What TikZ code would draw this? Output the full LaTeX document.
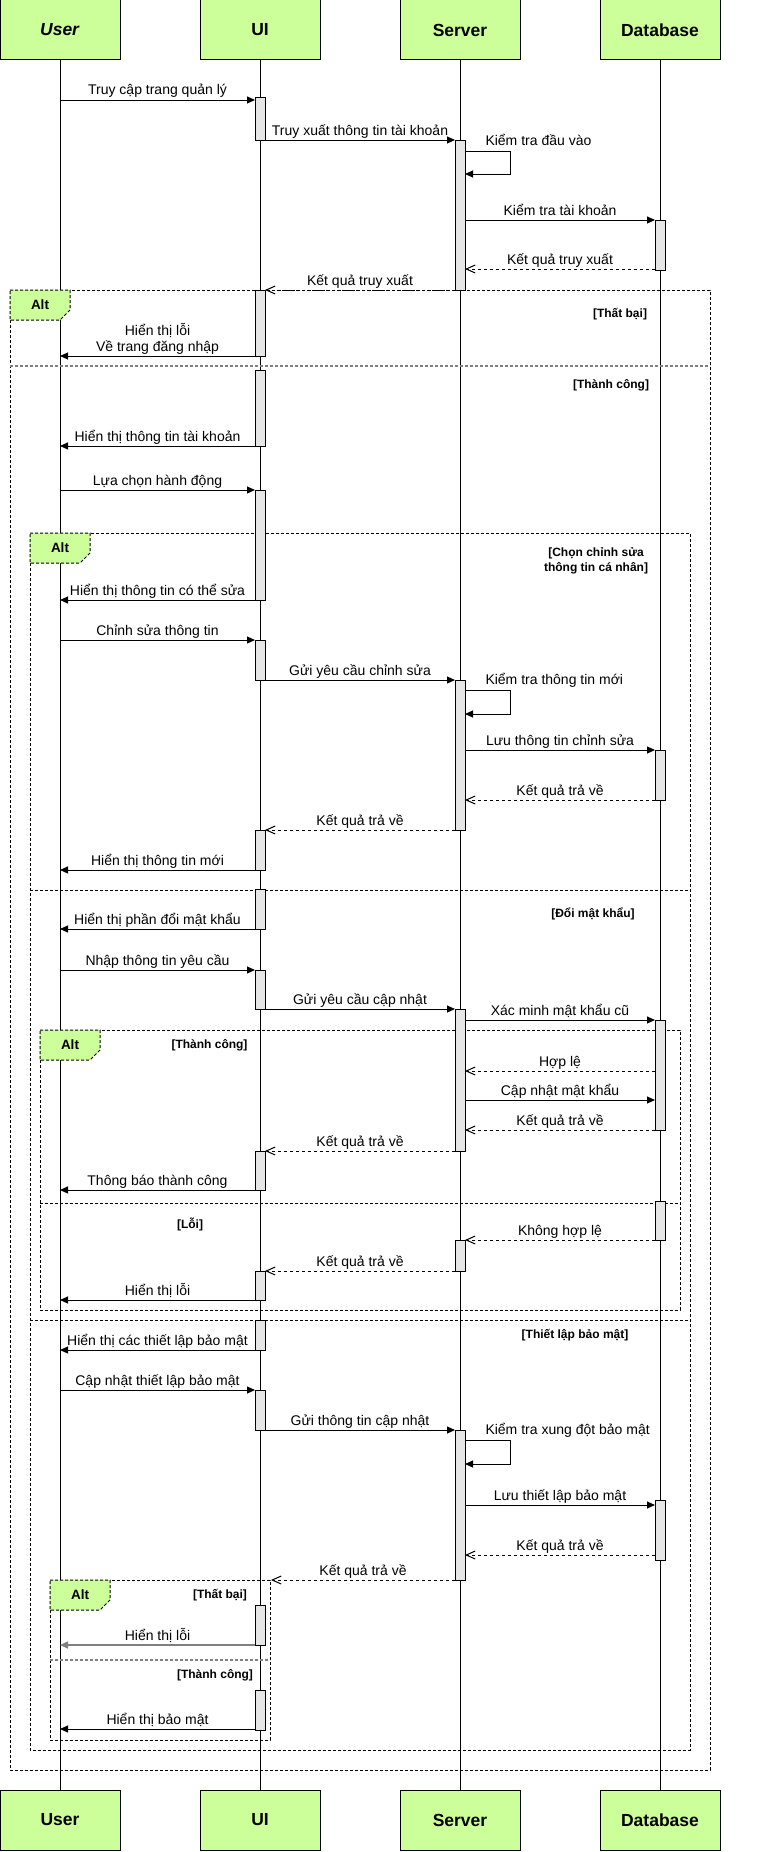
\documentclass[tikz,border=0pt]{standalone}
\usepackage{fontspec}
\setmainfont{Liberation Sans}
\usetikzlibrary{calc,arrows.meta}
\definecolor{hgreen}{HTML}{CCFF99}
\definecolor{actgray}{HTML}{E6E6E6}
\definecolor{sepgray}{HTML}{808080}

\newcommand\seqmsg[6]{% name, style, y, x1, x2, label
  \coordinate (#1a) at (#4,#3);
  \coordinate (#1b) at (#5,#3);
  \draw[#2] (#1a) -- (#1b);
  \node[lbl] (#1l) at ($(#1a)!0.5!(#1b)+(0,-5)$) {#6};}
\newcommand\seqself[4]{% name, y1, y2, label
  \coordinate (#1a) at (465,#2);
  \coordinate (#1b) at (465,#3);
  \draw[syncmsg] (#1a) -- ++(45,0) |- (#1b);
  \node[lbl, anchor=base west] (#1l) at ($(#1a)+(20,-6)$) {#4};}
\newcommand\seqact[4]{% name, x, y1, y2
  \node[actbar, minimum height={(#4-#3)*1pt}] (#1) at (#2,{(#3+#4)/2}) {};}

\begin{document}
\begin{tikzpicture}[x=1pt,y=-1pt, line width=1pt,
  head/.style={draw=black, fill=hgreen, minimum width=120pt, minimum height=60pt, inner sep=0pt,
    font=\bfseries\fontsize{17.5}{21}\selectfont},
  actbar/.style={draw=black, fill=actgray, minimum width=10pt, inner sep=0pt},
  syncmsg/.style={-{Triangle[length=8pt,width=7pt]}},
  graymsg/.style={draw=sepgray, line width=1.5pt, -{Triangle[length=8pt,width=7pt]}, color=sepgray},
  retmsg/.style={dash pattern=on 3pt off 3pt, -{Straight Barb[length=9pt,width=8pt]}},
  lbl/.style={anchor=base, inner sep=0pt, font=\fontsize{14}{16}\selectfont},
  frame/.style={draw=black, dash pattern=on 3pt off 2pt},
  sepline/.style={draw=black, dash pattern=on 3pt off 2pt},
  sepgrayline/.style={draw=sepgray, line width=1.6pt, dash pattern=on 3pt off 2pt},
  guard/.style={font=\bfseries\fontsize{12}{14.7}\selectfont, inner sep=0pt, align=center},
  altlbl/.style={font=\bfseries\fontsize{13.5}{16}\selectfont, inner sep=0pt},
  tab/.style={draw=black, fill=hgreen, dash pattern=on 3pt off 2pt},
]
\useasboundingbox (0,0) rectangle (761,1852);
\fill[white] (0,0) rectangle (761,1852);

% participants
\node[head] (hU) at (60,30) {\textit{User}};
\node[head] (hI) at (260,30) {UI};
\node[head] (hS) at (460,30) {Server};
\node[head] (hD) at (660,30) {Database};
\node[head] (fU) at (60,1820) {User};
\node[head] (fI) at (260,1820) {UI};
\node[head] (fS) at (460,1820) {Server};
\node[head] (fD) at (660,1820) {Database};

% lifelines
\draw (hU.south) -- (fU.north);
\draw (hI.south) -- (fI.north);
\draw (hS.south) -- (fS.north);
\draw (hD.south) -- (fD.north);

% frames
\draw[frame] (10,290) rectangle (710,1770);
\draw[frame] (30,533) rectangle (690,1750);
\draw[frame] (40,1030) rectangle (680,1310);
\draw[frame] (50,1580) rectangle (270,1740);

\draw[tab] (10,290) -- (70,290) -- (70,310) -- (60,320) -- (10,320) -- cycle;
\draw[tab] (30,533) -- (90,533) -- (90,553) -- (80,563) -- (30,563) -- cycle;
\draw[tab] (40,1030) -- (100,1030) -- (100,1050) -- (90,1060) -- (40,1060) -- cycle;
\draw[tab] (50,1580) -- (110,1580) -- (110,1600) -- (100,1610) -- (50,1610) -- cycle;
\node[altlbl] (alt1) at (40,305) {Alt};
\node[altlbl] (alt2) at (60,548) {Alt};
\node[altlbl] (alt3) at (70,1045) {Alt};
\node[altlbl] (alt4) at (80,1595) {Alt};

% separators
\draw[sepgrayline] (10,366) -- (710,366);
\draw[sepline] (30,890) -- (690,890);
\draw[sepline] (30,1320) -- (690,1320);
\draw[sepline] (40,1203) -- (680,1203);
\draw[sepgrayline] (50,1660) -- (270,1660);

% guards
\node[guard] (g1) at (620,314) {[Thất bại]};
\node[guard] (g2) at (611,385) {[Thành công]};
\node[guard] (g3) at (596,561) {[Chọn chỉnh sửa\\thông tin cá nhân]};
\node[guard] (g4) at (593,914) {[Đổi mật khẩu]};
\node[guard] (g5) at (209.5,1045) {[Thành công]};
\node[guard] (g6) at (190,1224) {[Lỗi]};
\node[guard] (g7) at (575,1335) {[Thiết lập bảo mật]};
\node[guard] (g8) at (220,1595) {[Thất bại]};
\node[guard] (g9) at (215,1675) {[Thành công]};

% activation bars
\seqact{ui1}{260}{97}{140}
\seqact{ui2}{260}{290}{356}
\seqact{ui3}{260}{370}{446}
\seqact{ui4}{260}{490}{600}
\seqact{ui5}{260}{640}{680}
\seqact{ui6}{260}{830}{870}
\seqact{ui7}{260}{889}{929}
\seqact{ui8}{260}{970}{1009}
\seqact{ui9}{260}{1151}{1190}
\seqact{ui10}{260}{1271}{1300}
\seqact{ui11}{260}{1320}{1350}
\seqact{ui12}{260}{1390}{1430}
\seqact{ui13}{260}{1605}{1645}
\seqact{ui14}{260}{1690}{1730}
\seqact{sv1}{460}{140}{290}
\seqact{sv2}{460}{680}{830}
\seqact{sv3}{460}{1009}{1151}
\seqact{sv4}{460}{1240}{1271}
\seqact{sv5}{460}{1430}{1580}
\seqact{db1}{660}{220}{270}
\seqact{db2}{660}{750}{800}
\seqact{db3}{660}{1020}{1130}
\seqact{db4}{660}{1201}{1240}
\seqact{db5}{660}{1500}{1560}

% messages
\seqmsg{m1}{syncmsg}{100}{60}{255}{Truy cập trang quản lý}
\seqmsg{m2}{syncmsg}{140}{265}{455}{Truy xuất thông tin tài khoản}
\seqself{m3}{151}{174}{Kiểm tra đầu vào}
\seqmsg{m4}{syncmsg}{220}{465}{655}{Kiểm tra tài khoản}
\seqmsg{m5}{retmsg}{269}{655}{465}{Kết quả truy xuất}
\seqmsg{m6}{retmsg}{290}{455}{265}{Kết quả truy xuất}
\coordinate (m7a) at (255,356);
\coordinate (m7b) at (60,356);
\draw[syncmsg] (m7a) -- (m7b);
\node[inner sep=0pt, anchor=south, align=center, font=\fontsize{14}{16}\selectfont] (m7l)
  at ($(m7a)!0.5!(m7b)+(0,-1.5)$) {Hiển thị lỗi\\Về trang đăng nhập};
\seqmsg{m8}{syncmsg}{446}{255}{60}{Hiển thị thông tin tài khoản}
\seqmsg{m9}{syncmsg}{490}{60}{255}{Lựa chọn hành động}
\seqmsg{m10}{syncmsg}{600}{255}{60}{Hiển thị thông tin có thể sửa}
\seqmsg{m11}{syncmsg}{640}{60}{255}{Chỉnh sửa thông tin}
\seqmsg{m12}{syncmsg}{680}{265}{455}{Gửi yêu cầu chỉnh sửa}
\seqself{m13}{690}{714}{Kiểm tra thông tin mới}
\seqmsg{m14}{syncmsg}{750}{465}{655}{Lưu thông tin chỉnh sửa}
\seqmsg{m15}{retmsg}{800}{655}{465}{Kết quả trả về}
\seqmsg{m16}{retmsg}{830}{455}{265}{Kết quả trả về}
\seqmsg{m17}{syncmsg}{870}{255}{60}{Hiển thị thông tin mới}
\seqmsg{m18}{syncmsg}{929}{255}{60}{Hiển thị phần đổi mật khẩu}
\seqmsg{m19}{syncmsg}{970}{60}{255}{Nhập thông tin yêu cầu}
\seqmsg{m20}{syncmsg}{1009}{265}{455}{Gửi yêu cầu cập nhật}
\seqmsg{m21}{syncmsg}{1020}{465}{655}{Xác minh mật khẩu cũ}
\seqmsg{m22}{retmsg}{1071}{655}{465}{Hợp lệ}
\seqmsg{m23}{syncmsg}{1100}{465}{655}{Cập nhật mật khẩu}
\seqmsg{m24}{retmsg}{1130}{655}{465}{Kết quả trả về}
\seqmsg{m25}{retmsg}{1151}{455}{265}{Kết quả trả về}
\seqmsg{m26}{syncmsg}{1190}{255}{60}{Thông báo thành công}
\seqmsg{m27}{retmsg}{1240}{655}{465}{Không hợp lệ}
\seqmsg{m28}{retmsg}{1271}{455}{265}{Kết quả trả về}
\seqmsg{m29}{syncmsg}{1300}{255}{60}{Hiển thị lỗi}
\seqmsg{m30}{syncmsg}{1350}{255}{60}{Hiển thị các thiết lập bảo mật}
\seqmsg{m31}{syncmsg}{1390}{60}{255}{Cập nhật thiết lập bảo mật}
\seqmsg{m32}{syncmsg}{1430}{265}{455}{Gửi thông tin cập nhật}
\seqself{m33}{1440}{1464}{Kiểm tra xung đột bảo mật}
\seqmsg{m34}{syncmsg}{1505}{465}{655}{Lưu thiết lập bảo mật}
\seqmsg{m35}{retmsg}{1555}{655}{465}{Kết quả trả về}
\seqmsg{m36}{retmsg}{1580}{455}{271}{Kết quả trả về}
\seqmsg{m37}{graymsg}{1645}{255}{60}{\textcolor{black}{Hiển thị lỗi}}
\seqmsg{m38}{syncmsg}{1729}{255}{60}{Hiển thị bảo mật}
\end{tikzpicture}
\end{document}
